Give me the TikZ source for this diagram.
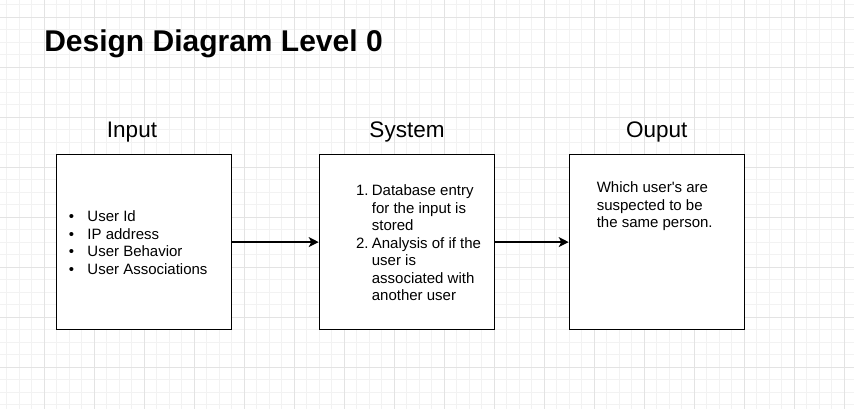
\documentclass[tikz,border=0pt]{standalone}
\usepackage{fontspec}
\setmainfont{Liberation Sans}[Ligatures=TeXOff]
\usetikzlibrary{arrows.meta}
\definecolor{gridminor}{HTML}{F2F2F2}
\definecolor{gridmajor}{HTML}{E3E3E3}
\begin{document}
\begin{tikzpicture}[x=0.75pt,y=-0.75pt,
  box/.style={draw=black,fill=white,line width=0.94pt,minimum width=131.25pt,minimum height=131.25pt,inner sep=0pt},
  heading/.style={font=\fontsize{16.875}{20}\selectfont,anchor=base,inner sep=0pt},
  body/.style={font=\fontsize{11.25}{13.125}\selectfont,anchor=base west,inner sep=0pt},
  flow/.style={line width=0.94pt,-{Stealth[length=7.5pt,width=7.5pt,inset=2pt]}}]
\useasboundingbox (0,0) rectangle (854,409);
\fill[white] (0,0) rectangle (854,409);
% grid
\foreach \i in {0,...,67} \draw[gridminor,line width=0.75pt] ({6.8+12.5*\i},0) -- ({6.8+12.5*\i},409);
\foreach \j in {0,...,32} \draw[gridminor,line width=0.75pt] (0,{4.8+12.5*\j}) -- (854,{4.8+12.5*\j});
\foreach \i in {0,...,16} \draw[gridmajor,line width=0.75pt] ({44.3+50*\i},0) -- ({44.3+50*\i},409);
\foreach \j in {0,...,7} \draw[gridmajor,line width=0.75pt] (0,{17.3+50*\j}) -- (854,{17.3+50*\j});
% title
\node[font=\fontsize{22.5}{27}\selectfont\bfseries,anchor=base west,inner sep=0pt] (title) at (44,51.7) {Design Diagram Level 0};
% boxes
\node[box] (input) at (144.3,242.1) {};
\node[box] (system) at (406.8,242.1) {};
\node[box] (output) at (656.8,242.1) {};
% headings
\node[heading] (hin) at (132,137.7) {Input};
\node[heading] (hsys) at (407,137.5) {System};
\node[heading] (hout) at (656.7,137.7) {Ouput};
% contents
\node[body] (inlist) at (87.2,221.7) {\begin{tabular}[t]{@{}l@{}}
\llap{•\hspace{10pt}}User Id\\
\llap{•\hspace{10pt}}IP address\\
\llap{•\hspace{10pt}}User Behavior\\
\llap{•\hspace{10pt}}User Associations
\end{tabular}};
\node[body] (syslist) at (371.6,195.7) {\begin{tabular}[t]{@{}l@{}}
\llap{1.\hspace{2.5pt}}Database entry\\
for the input is\\
stored\\
\llap{2.\hspace{2.5pt}}Analysis of if the\\
user is\\
associated with\\
another user
\end{tabular}};
\node[body] (outtext) at (596.5,192.7) {\begin{tabular}[t]{@{}l@{}}
Which user's are\\
suspected to be\\
the same person.
\end{tabular}};
% connectors
\draw[flow] (input.east) -- (system.west);
\draw[flow] (system.east) -- (output.west);
\end{tikzpicture}
\end{document}
